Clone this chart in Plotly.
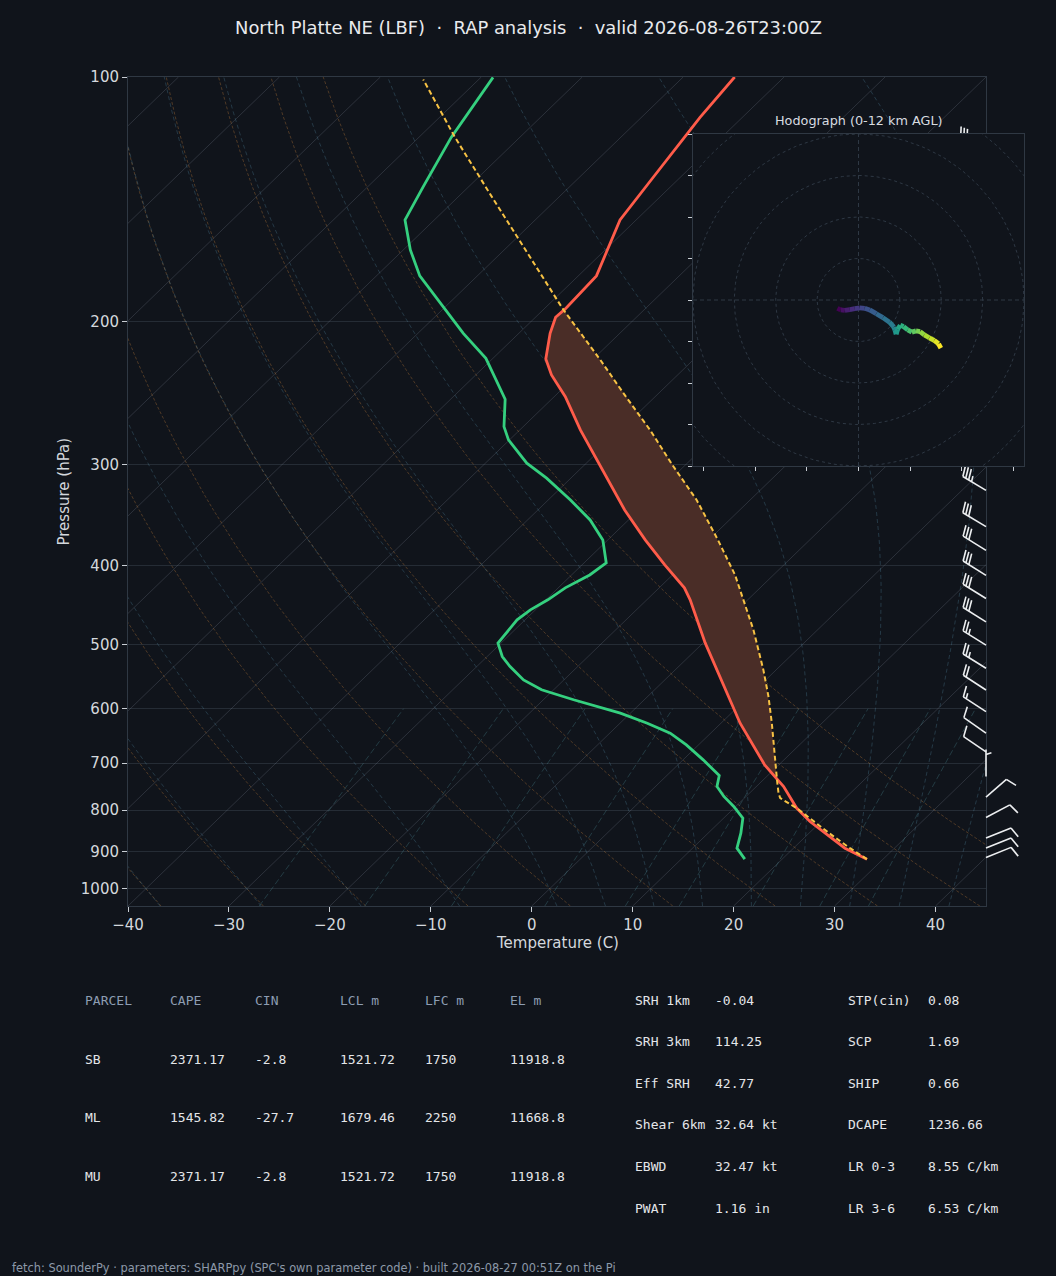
import numpy as np
import plotly.graph_objects as go
from plotly.colors import sample_colorscale

# ---------------- text ----------------
TITLE = "North Platte NE (LBF)  ·  RAP analysis  ·  valid 2026-08-26T23:00Z"
FOOTER = "fetch: SounderPy · parameters: SHARPpy (SPC's own parameter code) · built 2026-08-27 00:51Z on the Pi"
HODO_TITLE = "Hodograph (0-12 km AGL)"

# ---------------- sounding data ----------------
TEMP_P = [919.3, 891.2, 826.3, 795.4, 748.2, 703.6, 625.2, 549.7, 497.8, 440.6, 425.9, 399.0,
          371.7, 341.5, 312.0, 272.1, 247.6, 232.8, 222.5, 206.9, 197.7, 193.2, 175.8, 150.0,
          132.7, 117.5, 112.1, 100.0]
TEMP_C = [28.4, 25.1, 18.9, 16.2, 12.7, 8.6, 1.9, -4.7, -9.8, -15.7, -17.5, -21.8,
          -26.3, -31.4, -36.4, -44.0, -48.9, -52.5, -54.7, -56.9, -58.0, -57.9, -58.2, -61.6,
          -62.7, -63.8, -64.2, -64.9]

DEW_P = [919.3, 891.2, 854.1, 818.3, 791.7, 769.6, 748.2, 725.3, 693.7, 664.9, 643.2, 625.2,
         607.6, 585.0, 568.6, 552.9, 532.4, 517.5, 498.2, 466.3, 453.3, 440.6, 425.9, 410.6,
         396.8, 371.7, 351.3, 331.9, 312.0, 299.0, 279.9, 269.6, 249.4, 222.1, 206.9, 188.2,
         175.8, 163.3, 150.0, 136.5, 118.6, 100.1]
DEW_C = [16.3, 14.4, 13.25, 11.9, 9.8, 7.8, 6.1, 5.2, 2.0, -1.2, -4.0, -7.3,
         -11.0, -17.0, -21.2, -24.0, -26.7, -28.5, -30.3, -30.8, -30.5, -29.8, -29.3, -28.2,
         -27.8, -30.5, -33.8, -37.8, -42.4, -45.9, -50.1, -51.9, -54.6, -60.7, -65.5, -71.4,
         -75.7, -79.3, -82.9, -84.5, -86.8, -88.8]

PARCEL_P = [919.3, 891.2, 854.1, 795.4, 773.2, 762.3, 734.0, 693.7, 625.2, 579.6, 537.5, 479.8,
            440.6, 410.6, 371.7, 331.9, 300.5, 272.1, 246.4, 223.1, 193.2, 158.7, 140.4, 118.5, 100.7]
PARCEL_C = [28.4, 25.6, 22.0, 16.2, 13.55, 12.87, 11.35, 9.13, 5.04, 1.97, -1.26, -6.35,
            -10.4, -13.8, -19.1, -25.3, -31.3, -37.1, -43.2, -49.2, -58.1, -69.6, -76.7, -86.5, -95.5]

# wind barbs (pressure hPa, direction deg, speed kt)
BARB_P = [915, 891, 866, 817, 771, 727, 678, 643, 605, 569, 535, 501, 469, 439, 411, 383,
          358, 323, 300, 275, 250, 225, 200, 175, 150, 122]
BARB_DIR = [68, 68, 68, 62, 49, 0, 304, 305, 303, 303, 302, 302, 302, 302, 302, 302,
            301, 301, 300, 300, 298, 296, 295, 295, 292, 290]
BARB_SPD = [10, 10, 10, 10, 10, 5, 10, 10, 15, 20, 25, 25, 30, 30, 30, 30,
            30, 35, 35, 40, 40, 45, 45, 40, 35, 30]

# hodograph (kt)
HODO_U = [-10.2, -8.6, -6.6, -4.2, -1.8, 0.6, 3.0, 5.4, 8.6, 11.8, 15.0, 17.1, 17.6, 18.2,
          18.9, 20.2, 21.8, 23.8, 25.8, 27.8, 29.8, 31.8, 34.2, 36.6, 38.7, 39.8]
HODO_V = [-4.0, -4.8, -5.0, -4.6, -4.2, -3.8, -4.0, -4.8, -6.6, -8.5, -10.7, -13.1, -14.4, -16.5,
          -14.1, -12.2, -12.8, -14.4, -15.5, -14.9, -15.2, -16.8, -18.2, -19.5, -21.1, -23.2]

# tables
PARCEL_HDR = ["PARCEL", "CAPE", "CIN", "LCL m", "LFC m", "EL m"]
PARCEL_NAME = ["SB", "ML", "MU"]
PARCEL_CAPE = ["2371.17", "1545.82", "2371.17"]
PARCEL_CIN = ["-2.8", "-27.7", "-2.8"]
PARCEL_LCL = ["1521.72", "1679.46", "1521.72"]
PARCEL_LFC = ["1750", "2250", "1750"]
PARCEL_EL = ["11918.8", "11668.8", "11918.8"]

IDX1_LABEL = ["SRH 1km", "SRH 3km", "Eff SRH", "Shear 6km", "EBWD", "PWAT"]
IDX1_VALUE = ["-0.04", "114.25", "42.77", "32.64 kt", "32.47 kt", "1.16 in"]
IDX2_LABEL = ["STP(cin)", "SCP", "SHIP", "DCAPE", "LR 0-3", "LR 3-6"]
IDX2_VALUE = ["0.08", "1.69", "0.66", "1236.66", "8.55 C/km", "6.53 C/km"]

# ---------------- style / geometry ----------------
W, H = 1056, 1276
X0, X1, Y0, Y1 = 128, 986, 77, 906          # skew-T plot area in px
HX0, HX1, HY0, HY1 = 693, 1024, 134, 466    # hodograph area in px
TMIN, TMAX = -40.0, 45.0
P_BOT, P_TOP = 1050.0, 100.0
SKEW = TMAX - TMIN                           # 45 degree skew in axes units
HR = 80.0

BG = "#10141b"
TXT = "#d4d8dd"
SPINE = "#2f3843"
RED = "#ff5c4a"
GREEN = "#35d07f"
YELLOW = "#f7c244"
CAPEFILL = "#4a2d27"
MONO = "DejaVu Sans Mono"
SANS = "DejaVu Sans"

RD, CP, LV, EPS = 287.04749, 1005.7, 2.50084e6, 0.621957


def ya(p):
    p = np.asarray(p, float)
    return (np.log10(P_BOT) - np.log10(p)) / (np.log10(P_BOT) - np.log10(P_TOP))


def skew(t, p):
    return np.asarray(t, float) + SKEW * ya(p)


def px_y(p):
    return Y1 - ya(p) * (Y1 - Y0)


def moist_adiabat(t0c, plev):
    def f(p, T):
        e = 6.112 * np.exp(17.67 * (T - 273.15) / (T - 29.65))
        rs = EPS * e / (p - e)
        return (RD * T + LV * rs) / (CP + LV * LV * rs * EPS / (RD * T * T)) / p

    def step(p0, T, p1, n=6):
        h = (p1 - p0) / n
        p = p0
        for _ in range(n):
            k1 = f(p, T)
            k2 = f(p + h / 2, T + h * k1 / 2)
            k3 = f(p + h / 2, T + h * k2 / 2)
            k4 = f(p + h, T + h * k3)
            T = T + h * (k1 + 2 * k2 + 2 * k3 + k4) / 6
            p += h
        return T

    out = []
    T = t0c + 273.15
    pc = 1000.0
    for p in plev:
        T = step(pc, T, p)
        pc = p
        out.append(T - 273.15)
    return np.array(out)


fig = go.Figure()
NOH = dict(hoverinfo="skip", showlegend=False)

# ---- background reference lines ----
pline = np.linspace(P_BOT, P_TOP, 80)
for t in range(-120, 50, 10):
    fig.add_trace(go.Scatter(x=skew([t, t], [P_BOT, P_TOP]), y=[P_BOT, P_TOP], mode="lines",
                             line=dict(color="rgba(150,160,178,0.21)", width=1), **NOH))
for t0 in range(-40, 51, 10):
    tt = (t0 + 273.15) * (pline / 1000.0) ** (RD / CP) - 273.15
    fig.add_trace(go.Scatter(x=skew(tt, pline), y=pline, mode="lines",
                             line=dict(color="rgba(200,130,60,0.34)", width=1, dash="3px,2px"), **NOH))
pm = np.concatenate(([1050.0], np.linspace(1000, 100, 91)))
for t0 in [-40, -30, -20, -10] + list(range(0, 51, 5)):
    up = moist_adiabat(t0, pm[1:])
    dn = moist_adiabat(t0, [1050.0])
    tt = np.concatenate((dn, up))
    fig.add_trace(go.Scatter(x=skew(tt, pm), y=pm, mode="lines",
                             line=dict(color="rgba(90,150,180,0.28)", width=1, dash="4px,3px"), **NOH))
pmix = np.linspace(1050, 600, 30)
for w in [0.4, 1, 2, 4, 7, 10, 16, 24, 32]:
    wk = w / 1000.0
    e = wk * pmix / (EPS + wk)
    le = np.log(e / 6.112)
    td = 243.5 * le / (17.67 - le)
    fig.add_trace(go.Scatter(x=skew(td, pmix), y=pmix, mode="lines",
                             line=dict(color="rgba(80,150,160,0.30)", width=1, dash="6px,3px"), **NOH))

# ---- CAPE shading ----
pg = np.geomspace(755, 190, 240)
lt = -np.log(pg)
tg = np.interp(lt, -np.log(TEMP_P), TEMP_C)
pcg = np.interp(lt, -np.log(PARCEL_P), PARCEL_C)
upper = np.maximum(pcg, tg)
fig.add_trace(go.Scatter(x=np.concatenate((skew(upper, pg), skew(tg, pg)[::-1])),
                         y=np.concatenate((pg, pg[::-1])), mode="lines", fill="toself",
                         fillcolor=CAPEFILL, line=dict(width=0, color=CAPEFILL), **NOH))

# ---- profiles ----
fig.add_trace(go.Scatter(x=skew(TEMP_C, TEMP_P), y=TEMP_P, mode="lines",
                         line=dict(color=RED, width=2.8), **NOH))
fig.add_trace(go.Scatter(x=skew(DEW_C, DEW_P), y=DEW_P, mode="lines",
                         line=dict(color=GREEN, width=2.8), **NOH))
fig.add_trace(go.Scatter(x=skew(PARCEL_C, PARCEL_P), y=PARCEL_P, mode="lines",
                         line=dict(color=YELLOW, width=2.0, dash="5px,3px"), **NOH))

# ---- wind barbs (overlay axes in px, drawn under hodograph) ----
def barb_lines(bx, by, d_deg, spd, L=27.0):
    d = np.radians(d_deg)
    us = np.array([np.sin(d), -np.cos(d)])
    upv = np.array([np.cos(d), np.sin(d)])
    base = np.array([bx, by], float)
    segs = [[base, base + L * us]]
    s5 = int(5 * round(spd / 5.0))
    nflag = s5 // 50
    rem = s5 - 50 * nflag
    nbarb = rem // 10
    half = (rem - 10 * nbarb) >= 5
    fh, fw, sp = 0.4 * L, 0.25 * L, 0.125 * L
    off = L
    for _ in range(nflag):
        segs.append([base + off * us, base + (off - fw / 2) * us + fh * upv, base + (off - fw) * us])
        off -= fw + sp
    for _ in range(nbarb):
        segs.append([base + off * us, base + (off + fw / 2) * us + fh * upv])
        off -= sp
    if half:
        if off == L:
            off -= 1.5 * sp
        segs.append([base + off * us, base + (off + fw / 4) * us + (fh / 2) * upv])
    return segs

bxs, bys = [], []
for p, dd, ss in zip(BARB_P, BARB_DIR, BARB_SPD):
    for seg in barb_lines(X1, float(px_y(p)), dd, ss):
        for pt in seg:
            bxs.append(pt[0])
            bys.append(pt[1])
        bxs.append(None)
        bys.append(None)
fig.add_trace(go.Scatter(x=bxs, y=bys, xaxis="x2", yaxis="y2", mode="lines",
                         line=dict(color="#eceef0", width=1.6), **NOH))

# ---- hodograph ----
fig.add_trace(go.Scatter(x=[-HR, HR, HR, -HR, -HR], y=[-HR, -HR, HR, HR, -HR], xaxis="x3", yaxis="y3",
                         mode="lines", fill="toself", fillcolor=BG, line=dict(width=0, color=BG), **NOH))
th = np.linspace(0, 2 * np.pi, 241)
for r in [20, 40, 60, 80, 100, 120]:
    fig.add_trace(go.Scatter(x=r * np.cos(th), y=r * np.sin(th), xaxis="x3", yaxis="y3", mode="lines",
                             line=dict(color="#2e3844", width=1, dash="3px,3px"), **NOH))
fig.add_trace(go.Scatter(x=[-HR, HR, None, 0, 0], y=[0, 0, None, -HR, HR], xaxis="x3", yaxis="y3",
                         mode="lines", line=dict(color="#2e3844", width=1, dash="4px,3px"), **NOH))
n = len(HODO_U)
cols = sample_colorscale("Viridis", list(np.linspace(0, 1, n - 1)))
for i in range(n - 1):
    fig.add_trace(go.Scatter(x=HODO_U[i:i + 2], y=HODO_V[i:i + 2], xaxis="x3", yaxis="y3", mode="lines",
                             line=dict(color=cols[i], width=4.8), **NOH))

# ---- annotations ----
ann = []


def add_text(x, y, text, size, color, family=SANS, xanchor="left", angle=0):
    ann.append(dict(x=x / W, y=1 - y / H, xref="paper", yref="paper", text=text, showarrow=False,
                    xanchor=xanchor, yanchor="middle", textangle=angle, borderpad=0,
                    font=dict(family=family, size=size, color=color)))


add_text(528, 27, TITLE.replace("  ", "\u00a0\u00a0"), 17.9, "#e8eaed", xanchor="center")
add_text((X0 + X1) / 2, 943, "Temperature (C)", 15, TXT, xanchor="center")
add_text(63, (Y0 + Y1) / 2, "Pressure (hPa)", 15, TXT, xanchor="center", angle=-90)
add_text((HX0 + HX1) / 2, 120, HODO_TITLE, 12.8, "#d8dce0", xanchor="center")

colx = [84, 169, 254, 339, 424, 509]
for j, h in enumerate(PARCEL_HDR):
    add_text(colx[j], 1000, h, 13, "#8d9db2", family=MONO)
for i in range(3):
    row = [PARCEL_NAME[i], PARCEL_CAPE[i], PARCEL_CIN[i], PARCEL_LCL[i], PARCEL_LFC[i], PARCEL_EL[i]]
    for j, v in enumerate(row):
        add_text(colx[j], 1059 + 58.7 * i, v, 13, "#e4e6e9", family=MONO)
for i in range(6):
    yy = 1000 + 41.6 * i
    add_text(634, yy, IDX1_LABEL[i], 13, "#e4e6e9", family=MONO)
    add_text(714, yy, IDX1_VALUE[i], 13, "#e4e6e9", family=MONO)
    add_text(847, yy, IDX2_LABEL[i], 13, "#e4e6e9", family=MONO)
    add_text(927, yy, IDX2_VALUE[i], 13, "#e4e6e9", family=MONO)
add_text(11, 1268, FOOTER, 11.4, "#8d99a9")

xt = list(range(-40, 41, 10))
pt_ = [100, 200, 300, 400, 500, 600, 700, 800, 900, 1000]

fig.update_layout(
    width=W, height=H, margin=dict(l=0, r=0, t=0, b=0, pad=0), autosize=False,
    paper_bgcolor=BG, plot_bgcolor="rgba(0,0,0,0)", showlegend=False,
    font=dict(family=SANS, size=14, color=TXT),
    annotations=ann,
    xaxis=dict(domain=[X0 / W, X1 / W], range=[TMIN, TMAX], anchor="y", automargin=False,
               tickvals=xt, ticktext=[str(v).replace("-", "\u2212") for v in xt],
               ticks="outside", ticklen=5, tickcolor="#c9ced4", tickfont=dict(size=15, color=TXT),
               showgrid=False, zeroline=False, showline=True, mirror=True, linecolor=SPINE, linewidth=1),
    yaxis=dict(domain=[1 - Y1 / H, 1 - Y0 / H], type="log", automargin=False,
               range=[np.log10(P_BOT), np.log10(P_TOP)], anchor="x",
               tickvals=pt_, ticktext=[str(v) for v in pt_],
               ticks="outside", ticklen=5, tickcolor="#c9ced4", tickfont=dict(size=15, color=TXT),
               showgrid=True, gridcolor="#252c35", gridwidth=1, zeroline=False,
               showline=True, mirror=True, linecolor=SPINE, linewidth=1),
    xaxis2=dict(domain=[0, 1], range=[0, W], anchor="y2", visible=False, fixedrange=True, automargin=False),
    yaxis2=dict(domain=[0, 1], range=[H, 0], anchor="x2", visible=False, fixedrange=True, automargin=False),
    xaxis3=dict(domain=[HX0 / W, HX1 / W], range=[-HR, HR], anchor="y3", automargin=False,
                tickvals=list(range(-75, 76, 25)), ticks="outside", ticklen=4, tickcolor="#c9ced4",
                showticklabels=False, showgrid=False, zeroline=False,
                showline=True, mirror=True, linecolor=SPINE, linewidth=1),
    yaxis3=dict(domain=[1 - HY1 / H, 1 - HY0 / H], range=[-HR, HR], anchor="x3", automargin=False,
                tickvals=list(range(-80, 81, 20)), ticks="outside", ticklen=4, tickcolor="#c9ced4",
                showticklabels=False, showgrid=False, zeroline=False,
                showline=True, mirror=True, linecolor=SPINE, linewidth=1),
)

POST = ("document.documentElement.style.margin='0';document.body.style.margin='0';"
        "document.body.style.padding='0';document.body.style.overflow='hidden';"
        "document.body.style.background='#10141b';document.documentElement.style.background='#10141b';")
fig.write_html("out.html", post_script=POST, config={"displayModeBar": False})
